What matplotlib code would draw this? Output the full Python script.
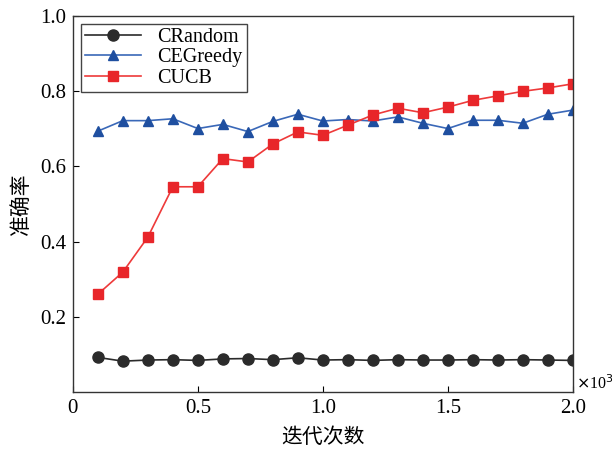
import matplotlib
matplotlib.use("Agg")
import matplotlib.pyplot as plt

# iterations (x10^3)
iters = [0.1, 0.2, 0.3, 0.4, 0.5, 0.6, 0.7, 0.8, 0.9, 1.0,
         1.1, 1.2, 1.3, 1.4, 1.5, 1.6, 1.7, 1.8, 1.9, 2.0]
crandom = [0.092, 0.082, 0.085, 0.086, 0.084, 0.088, 0.089, 0.086, 0.091, 0.085,
           0.086, 0.084, 0.086, 0.085, 0.085, 0.086, 0.085, 0.086, 0.085, 0.084]
cegreedy = [0.694, 0.722, 0.722, 0.727, 0.701, 0.712, 0.693, 0.720, 0.739, 0.721,
            0.725, 0.721, 0.732, 0.715, 0.701, 0.723, 0.723, 0.715, 0.739, 0.750]
cucb = [0.260, 0.319, 0.412, 0.546, 0.546, 0.621, 0.612, 0.660, 0.692, 0.683,
        0.710, 0.737, 0.755, 0.743, 0.758, 0.776, 0.788, 0.800, 0.809, 0.820]

plt.rcParams['font.family'] = ['Liberation Serif', 'Noto Sans CJK SC']

fig = plt.figure(figsize=(6.12, 4.49), dpi=100)
ax = fig.add_axes([0.119, 0.127, 0.817, 0.837])

ax.plot(iters, crandom, color='#2b2b2b', marker='o', ms=8, lw=1.2, label='CRandom')
ax.plot(iters, cegreedy, color='#3a68b8', marker='^', ms=7.5, mfc='#1f4fa0', mec='#1f4fa0',
        lw=1.2, label='CEGreedy')
ax.plot(iters, cucb, color='#ee3a3a', marker='s', ms=7.5, mfc='#e8262a', mec='#e8262a',
        lw=1.2, label='CUCB')

ax.set_xlim(0, 2.0)
ax.set_ylim(0, 1.0)
ax.set_xticks([0, 0.5, 1.0, 1.5, 2.0])
ax.set_xticklabels(['0', '0.5', '1.0', '1.5', '2.0'])
ax.set_yticks([0.2, 0.4, 0.6, 0.8, 1.0])
ax.set_yticklabels(['0.2', '0.4', '0.6', '0.8', '1.0'])
ax.tick_params(direction='in', length=4, labelsize=15, pad=5)
for s in ax.spines.values():
    s.set_linewidth(1.0)
    s.set_color('#333333')

ax.text(1.006, 0.022, r'$\times$10$^3$', transform=ax.transAxes, fontsize=11.5,
        ha='left', va='center')

ax.set_xlabel('迭代次数', family=['Noto Sans CJK SC'], fontsize=15, labelpad=6)
ax.set_ylabel('准确率', family=['Noto Sans CJK SC'], fontsize=15, labelpad=6)

leg = ax.legend(loc='upper left', fontsize=14.5, fancybox=False, framealpha=1,
                edgecolor='#444444', borderpad=0.2, labelspacing=0.05,
                handlelength=2.8, borderaxespad=0.4)
leg.get_frame().set_linewidth(1.0)

fig.savefig('out.png', dpi=100)
